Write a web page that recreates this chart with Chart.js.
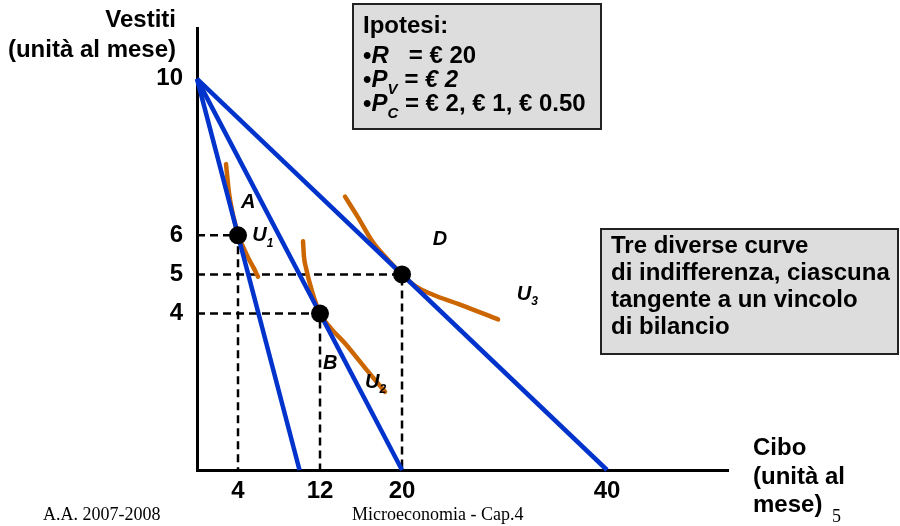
<!DOCTYPE html>
<html>
<head>
<meta charset="utf-8">
<script src="https://cdn.jsdelivr.net/npm/chart.js@4"></script>
<style>
html,body{margin:0;padding:0;background:#fff;}
#c{display:block;}
</style>
</head>
<body>
<canvas id="c" width="900" height="526"></canvas>
<script>
// ---- data ----
const xTicks = [4, 12, 20, 40];
const yTicks = [4, 5, 6, 10];
const budgetYIntercept = 10;
const budgetXIntercepts = [10, 20, 40];
const optimumNames = ['A', 'B', 'D'];
const optimumX = [4, 12, 20];
const optimumY = [6, 4, 5];
const u1X = [2.83, 3.12, 3.45, 3.72, 4.0, 4.5, 5.0, 5.5, 5.95];
const u1Y = [7.82, 7.09, 6.6, 6.3, 6.0, 5.7, 5.42, 5.18, 4.94];
const u2X = [10.34, 10.43, 10.63, 11.21, 12.0, 13.07, 14.43, 16.39, 18.34];
const u2Y = [5.85, 5.47, 5.17, 4.58, 4.0, 3.62, 3.24, 2.61, 2.0];
const u3X = [14.44, 15.71, 17.17, 18.54, 20.0, 21.27, 23.02, 25.66, 29.37];
const u3Y = [6.99, 6.46, 5.82, 5.40, 5.0, 4.71, 4.48, 4.23, 3.85];
// label anchors (data coords)
const pointLabelX = [4.29, 12.3, 23.0];
const pointLabelY = [6.71, 2.58, 5.75];
const curveLabelX = [5.4, 16.4, 31.2];
const curveLabelY = [5.85, 2.1, 4.35];
const curveLabelSub = ['1', '2', '3'];

const BLUE = '#0033CC';
const ORANGE = '#CC6600';
const SANS = '"Liberation Sans", Arial, sans-serif';
const SERIF = '"Liberation Serif", "Times New Roman", serif';

const zip = (xs, ys) => xs.map((x, i) => ({x: x, y: ys[i]}));

const datasets = [];
// optimum points
datasets.push({
  data: zip(optimumX, optimumY), showLine: false,
  pointRadius: 9, pointBackgroundColor: '#000', pointBorderColor: '#000',
  pointBorderWidth: 0, order: 0
});
// budget lines
budgetXIntercepts.forEach(xi => {
  datasets.push({
    data: [{x: 0, y: budgetYIntercept}, {x: xi, y: 0}], showLine: true,
    borderColor: BLUE, borderWidth: 4.5, pointRadius: 0, order: 1, clip: 10
  });
});
// indifference curves
[[u1X, u1Y], [u2X, u2Y], [u3X, u3Y]].forEach(([xs, ys]) => {
  datasets.push({
    data: zip(xs, ys), showLine: true, borderColor: ORANGE, borderWidth: 4.5,
    pointRadius: 0, tension: 0.4, cubicInterpolationMode: 'monotone', order: 2,
    borderCapStyle: 'round'
  });
});
// dashed guides
optimumX.forEach((px, i) => {
  const py = optimumY[i];
  datasets.push({
    data: [{x: 0, y: py}, {x: px, y: py}, {x: px, y: 0}], showLine: true,
    borderColor: '#000', borderWidth: 2.5, borderDash: [8, 5], pointRadius: 0,
    tension: 0, order: 3
  });
});

function drawRich(ctx, x, y, segs, size) {
  let cx = x;
  segs.forEach(s => {
    const fs = s.sub ? Math.round(size * 0.62) : size;
    ctx.font = (s.i ? 'italic ' : '') + 'bold ' + fs + 'px ' + SANS;
    const yy = s.sub ? y + size * 0.28 : y;
    ctx.fillText(s.t, cx, yy);
    cx += ctx.measureText(s.t).width;
  });
}

const annot = {
  id: 'annot',
  afterDraw(chart) {
    const ctx = chart.ctx;
    const xs = chart.scales.x, ys = chart.scales.y;
    ctx.save();
    ctx.fillStyle = '#000';
    ctx.textBaseline = 'alphabetic';
    // axis titles
    ctx.font = 'bold 24px ' + SANS;
    ctx.textAlign = 'right';
    ctx.fillText('Vestiti', 176, 27);
    ctx.fillText('(unità al mese)', 176, 57);
    ctx.textAlign = 'left';
    ctx.fillText('Cibo', 753, 455);
    ctx.fillText('(unità al', 753, 484);
    ctx.fillText('mese)', 753, 512);
    // footer
    ctx.font = '18px ' + SERIF;
    ctx.fillText('A.A. 2007-2008', 43, 520);
    ctx.fillText('Microeconomia - Cap.4', 352, 520);
    ctx.fillText('5', 832, 522);
    // boxes
    ctx.fillStyle = '#DDDDDD';
    ctx.strokeStyle = '#222';
    ctx.lineWidth = 2;
    ctx.fillRect(353, 4, 248, 125);
    ctx.strokeRect(353, 4, 248, 125);
    ctx.fillRect(601, 229, 297, 125);
    ctx.strokeRect(601, 229, 297, 125);
    ctx.fillStyle = '#000';
    ctx.textAlign = 'left';
    drawRich(ctx, 363, 33, [{t: 'Ipotesi:'}], 24);
    drawRich(ctx, 363, 63, [{t: '•'}, {t: 'R', i: 1}, {t: '   = € 20'}], 24);
    drawRich(ctx, 363, 87, [{t: '•'}, {t: 'P', i: 1}, {t: 'V', i: 1, sub: 1}, {t: ' = € 2', i: 1}], 24);
    drawRich(ctx, 363, 111, [{t: '•'}, {t: 'P', i: 1}, {t: 'C', i: 1, sub: 1}, {t: ' = € 2, € 1, € 0.50'}], 24);
    const boxLines = ['Tre diverse curve', 'di indifferenza, ciascuna', 'tangente a un vincolo', 'di bilancio'];
    boxLines.forEach((l, i) => drawRich(ctx, 611, 253 + i * 27, [{t: l}], 24));
    // point labels
    optimumNames.forEach((n, i) => {
      drawRich(ctx, xs.getPixelForValue(pointLabelX[i]), ys.getPixelForValue(pointLabelY[i]),
        [{t: n, i: 1}], 20);
    });
    curveLabelSub.forEach((s, i) => {
      drawRich(ctx, xs.getPixelForValue(curveLabelX[i]), ys.getPixelForValue(curveLabelY[i]),
        [{t: 'U', i: 1}, {t: s, i: 1, sub: 1}], 20);
    });
    ctx.restore();
  }
};

new Chart(document.getElementById('c'), {
  type: 'scatter',
  data: {datasets: datasets},
  options: {
    responsive: false,
    devicePixelRatio: 1,
    animation: false,
    layout: {padding: {left: 0, right: 172, top: 24, bottom: 0}},
    plugins: {legend: {display: false}, tooltip: {enabled: false}},
    scales: {
      x: {
        type: 'linear', min: 0, max: 51.8,
        afterBuildTicks: s => { s.ticks = xTicks.map(v => ({value: v})); },
        afterFit: s => { s.height = 56; },
        ticks: {font: {family: SANS, size: 24, weight: 'bold'}, color: '#000', padding: 7,
                autoSkip: false, maxRotation: 0},
        grid: {display: false, drawTicks: false},
        border: {display: true, color: '#000', width: 3}
      },
      y: {
        type: 'linear', min: 0, max: 11.29,
        afterBuildTicks: s => { s.ticks = yTicks.map(v => ({value: v})); },
        afterFit: s => { s.width = 197; },
        ticks: {font: {family: SANS, size: 24, weight: 'bold'}, color: '#000', padding: 14,
                autoSkip: false},
        grid: {display: false, drawTicks: false},
        border: {display: true, color: '#000', width: 3}
      }
    }
  },
  plugins: [annot]
});
</script>
</body>
</html>
